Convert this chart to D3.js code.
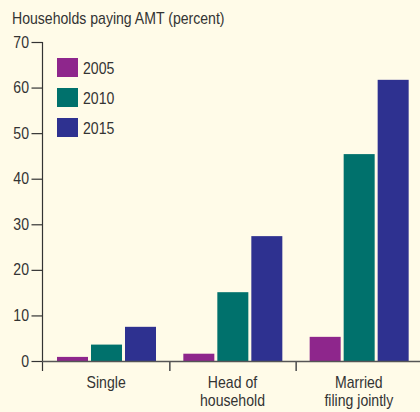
<!DOCTYPE html>
<html>
<head>
<meta charset="utf-8">
<script src="https://cdn.jsdelivr.net/npm/d3@7"></script>
<style>
  html, body { margin: 0; padding: 0; background: #fffbe8; }
  svg { display: block; }
  text { font-family: "Liberation Sans", Arial, sans-serif; fill: #333; }
</style>
</head>
<body>
<svg id="chart" width="420" height="412"></svg>
<script>
const categories = ["Single", "Head of\nhousehold", "Married\nfiling jointly"];
const years = ["2005", "2010", "2015"];
const values2005 = [0.9, 1.6, 5.3];
const values2010 = [3.6, 15.1, 45.4];
const values2015 = [7.5, 27.4, 61.7];
const yTicks = [0, 10, 20, 30, 40, 50, 60, 70];
const colors = ["#8e268c", "#00716c", "#2e3190"];
const title = "Households paying AMT (percent)";

const SX = 0.88; // condensed look
const FS = 16;

const series = [values2005, values2010, values2015];
const data = categories.map((c, i) => ({ cat: c, vals: years.map((y, j) => ({ year: y, v: series[j][i] })) }));

const svg = d3.select("#chart");
svg.append("rect").attr("width", 420).attr("height", 412).attr("fill", "#fffbe8");

const y = d3.scaleLinear().domain([0, 70]).range([361, 42]);
const x0 = d3.scaleBand().domain(categories).range([43, 422]).padding(0);
const x1 = d3.scaleBand().domain(years).range([14, 113]).paddingInner(0.088).paddingOuter(0);
const color = d3.scaleOrdinal().domain(years).range(colors);

// title
svg.append("text").attr("transform", `translate(12,24) scale(${SX},1)`)
  .attr("font-size", FS).text(title);

// bars
const g = svg.append("g");
g.selectAll("g.grp").data(data).join("g").attr("class", "grp")
  .attr("transform", d => `translate(${x0(d.cat)},0)`)
  .selectAll("rect").data(d => d.vals).join("rect")
  .attr("x", d => x1(d.year))
  .attr("width", x1.bandwidth())
  .attr("y", d => y(d.v))
  .attr("height", d => y(0) - y(d.v))
  .attr("fill", d => color(d.year));

// y axis
const yAxis = d3.axisLeft(y).tickValues(yTicks).tickSize(11).tickPadding(3);
const ya = svg.append("g").attr("transform", "translate(42.5,0)").call(yAxis);
ya.select(".domain").remove();
ya.selectAll(".tick line").attr("stroke", "#333").attr("stroke-width", 1.2);
ya.selectAll(".tick text")
  .attr("font-size", FS).attr("fill", "#333")
  .attr("font-family", "Liberation Sans, Arial, sans-serif")
  .attr("x", 0)
  .attr("transform", `translate(-13.5,0) scale(${SX},1)`);
svg.append("line").attr("x1", 42.5).attr("x2", 42.5).attr("y1", 42).attr("y2", 371)
  .attr("stroke", "#333").attr("stroke-width", 1.2);

// x axis baseline
svg.append("line").attr("x1", 42).attr("x2", 420).attr("y1", y(0) + 0.5).attr("y2", y(0) + 0.5)
  .attr("stroke", "#555").attr("stroke-width", 1.6);

// category separator ticks
svg.selectAll("line.sep").data(categories.slice(1)).join("line").attr("class", "sep")
  .attr("x1", d => x0(d) + 0.5).attr("x2", d => x0(d) + 0.5)
  .attr("y1", y(0)).attr("y2", 371)
  .attr("stroke", "#555").attr("stroke-width", 1.6);

// category labels
svg.selectAll("text.cat").data(categories).join("text").attr("class", "cat")
  .attr("text-anchor", "middle").attr("font-size", FS)
  .attr("transform", d => `translate(${x0(d) + x0.bandwidth() / 2},388) scale(${SX},1)`)
  .each(function(d) {
    const t = d3.select(this);
    d.split("\n").forEach((line, i) => {
      t.append("tspan").attr("x", 0).attr("dy", i === 0 ? 0 : 18).text(line);
    });
  });

// legend
const lg = svg.selectAll("g.leg").data(years).join("g").attr("class", "leg")
  .attr("transform", (d, i) => `translate(57,${58 + i * 30})`);
lg.append("rect").attr("width", 21).attr("height", 19).attr("fill", d => color(d));
lg.append("text").attr("transform", `translate(26,15.5) scale(${SX},1)`)
  .attr("font-size", FS).text(d => d);
</script>
</body>
</html>
